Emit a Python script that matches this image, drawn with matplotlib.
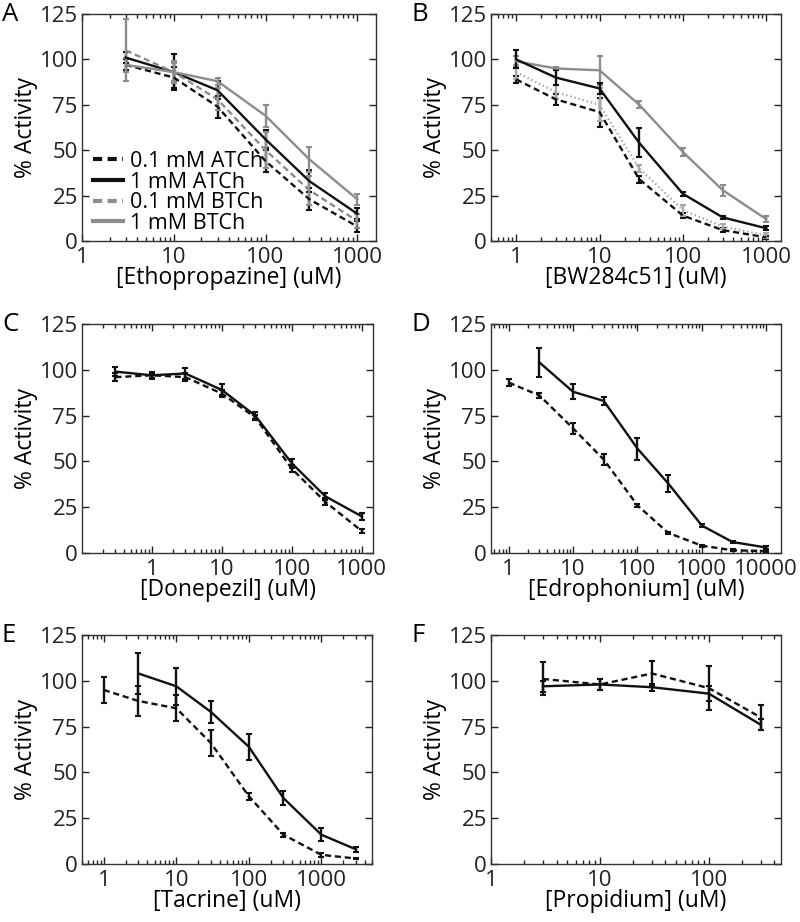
import matplotlib
matplotlib.use("Agg")
import matplotlib.pyplot as plt
from matplotlib.ticker import FixedLocator, LogLocator, NullFormatter, FuncFormatter
from matplotlib.lines import Line2D
import numpy as np

plt.rcParams['font.family'] = ['Open Sans', 'DejaVu Sans']

# ---------------- data ----------------
# Panel A: Ethopropazine
a_x = [3, 10, 30, 100, 300, 1000]
a_atch01 = [97, 90, 74, 44, 23, 8]
a_atch01_err = [3, 6, 6, 6, 6, 3]
a_atch1 = [101, 93, 83, 56, 33, 15]
a_atch1_err = [3, 10, 5, 5, 6, 3]
a_btch01 = [105, 93, 78, 50, 28, 11]
a_btch01_err = [17, 6, 6, 10, 8, 4]
a_btch1 = [97, 93, 88, 69, 45, 23]
a_btch1_err = [4, 5, 2, 6, 7, 3]

# Panel B: BW284c51
b_x = [1, 3, 10, 30, 100, 300, 1000]
b_atch01 = [89, 78, 71, 34, 14, 6, 2]
b_atch01_err = [2, 3, 8, 2, 1.5, 1, 1]
b_atch1 = [100, 90, 84, 54, 26, 13, 7]
b_atch1_err = [5, 4, 3, 8, 1, 1, 1]
b_btch01 = [93, 82, 75, 40, 17, 8, 3]
b_btch01_err = [4, 4, 9, 2, 3, 1.5, 1.5]
b_btch1 = [99, 95, 94, 75, 49, 28, 12]
b_btch1_err = [3, 1, 8, 2, 2, 3, 1.5]

# Panel C: Donepezil
c_x = [0.3, 1, 3, 10, 30, 100, 300, 1000]
c_atch01 = [96, 97, 96, 87, 74, 46, 28, 12]
c_atch01_err = [2, 1.5, 2, 2, 1.5, 2, 2, 1]
c_atch1 = [99, 97, 98, 89, 75, 49, 31, 20]
c_atch1_err = [2.5, 2, 3, 3, 2, 2.5, 2, 2]

# Panel D: Edrophonium
d_x01 = [1, 3, 10, 30, 100, 300, 1000, 3000, 10000]
d_atch01 = [93, 86, 68, 51, 26, 11, 4, 1.5, 1]
d_atch01_err = [2, 1.5, 3, 3, 1, 0.5, 0.5, 0.5, 0.5]
d_x1 = [3, 10, 30, 100, 300, 1000, 3000, 10000]
d_atch1 = [104, 88, 83, 57, 38, 15, 6, 3]
d_atch1_err = [8, 4, 2, 6, 4.5, 1, 0.7, 0.7]

# Panel E: Tacrine
e_x01 = [1, 3, 10, 30, 100, 300, 1000, 3000]
e_atch01 = [95, 89, 85, 66, 37, 16, 5, 3]
e_atch01_err = [7, 8, 7, 7, 2, 1, 1, 0.5]
e_x1 = [3, 10, 30, 100, 300, 1000, 3000]
e_atch1 = [104, 97, 83, 64, 36, 16, 8]
e_atch1_err = [11, 10, 6, 7, 4, 3.5, 1.5]

# Panel F: Propidium
f_x = [3, 10, 30, 100, 300]
f_atch01 = [101, 98, 104, 96, 80]
f_atch01_err = [9, 3, 7, 12, 7]
f_atch1 = [97, 98, 96.5, 93, 76]
f_atch1_err = [3, 3, 2, 4, 3]

legend_labels = ['0.1 mM ATCh', '1 mM ATCh', '0.1 mM BTCh', '1 mM BTCh']
xlabels = ['[Ethopropazine] (uM)', '[BW284c51] (uM)', '[Donepezil] (uM)',
           '[Edrophonium] (uM)', '[Tacrine] (uM)', '[Propidium] (uM)']
letters = ['A', 'B', 'C', 'D', 'E', 'F']

# ---------------- style ----------------
BLACK = '#111111'
GRAY = '#8c8c8c'
DASH = (0, (2.6, 1.6))
DOT = (0, (0.6, 1.2))
FS = 16

fig = plt.figure(figsize=(8, 9.22), dpi=100)

W, H = 800, 922
def add_ax(l, r, t, b):
    return fig.add_axes([l / W, 1 - b / H, (r - l) / W, (b - t) / H])

axA = add_ax(82, 376, 14, 241)
axB = add_ax(491, 781, 14, 241)
axC = add_ax(82, 373, 324, 553)
axD = add_ax(491, 781, 324, 553)
axE = add_ax(82, 372, 635, 864)
axF = add_ax(491, 781, 635, 864)
axes = [axA, axB, axC, axD, axE, axF]

def series(ax, x, y, err, color, ls):
    ax.errorbar(x, y, yerr=err, color=color, ls=ls, lw=1.7, elinewidth=1.7,
                capsize=2.5, capthick=1.5, zorder=3)

series(axA, a_x, a_atch01, a_atch01_err, BLACK, DASH)
series(axA, a_x, a_atch1, a_atch1_err, BLACK, '-')
series(axA, a_x, a_btch01, a_btch01_err, GRAY, DASH)
series(axA, a_x, a_btch1, a_btch1_err, GRAY, '-')

series(axB, b_x, b_atch01, b_atch01_err, BLACK, DASH)
series(axB, b_x, b_btch01, b_btch01_err, '#a8a8a8', DOT)
series(axB, b_x, b_btch1, b_btch1_err, GRAY, '-')
series(axB, b_x, b_atch1, b_atch1_err, BLACK, '-')

series(axC, c_x, c_atch01, c_atch01_err, BLACK, DASH)
series(axC, c_x, c_atch1, c_atch1_err, BLACK, '-')

series(axD, d_x01, d_atch01, d_atch01_err, BLACK, DASH)
series(axD, d_x1, d_atch1, d_atch1_err, BLACK, '-')

series(axE, e_x01, e_atch01, e_atch01_err, BLACK, DASH)
series(axE, e_x1, e_atch1, e_atch1_err, BLACK, '-')

series(axF, f_x, f_atch01, f_atch01_err, BLACK, DASH)
series(axF, f_x, f_atch1, f_atch1_err, BLACK, '-')

xlims = [(1, 1600), (0.5, 1500), (0.1, 1450), (0.53, 17000), (0.5, 5000), (1, 460)]
majors = [[1, 10, 100, 1000], [1, 10, 100, 1000], [1, 10, 100, 1000],
          [1, 10, 100, 1000, 10000], [1, 10, 100, 1000], [1, 10, 100]]

fmt = FuncFormatter(lambda v, p: ('%g' % v))
for ax, xl, mj, lab, let in zip(axes, xlims, majors, xlabels, letters):
    ax.set_xscale('log')
    ax.set_xlim(*xl)
    ax.set_ylim(0, 125)
    ax.xaxis.set_major_locator(FixedLocator(mj))
    ax.xaxis.set_major_formatter(fmt)
    ax.xaxis.set_minor_locator(LogLocator(base=10, subs=np.arange(2, 10), numticks=30))
    ax.xaxis.set_minor_formatter(NullFormatter())
    ax.set_yticks([0, 25, 50, 75, 100, 125])
    ax.tick_params(which='both', direction='in', top=True, right=True,
                   labelsize=FS, width=1.0, colors='#222222')
    ax.tick_params(axis='x', pad=4)
    ax.tick_params(axis='y', pad=3)
    ax.tick_params(which='major', length=5)
    ax.tick_params(which='minor', length=3)
    for s in ax.spines.values():
        s.set_linewidth(1.0)
        s.set_color('#333333')
    ax.set_xlabel(lab, fontsize=FS + 0.5, labelpad=-1)
    ax.set_ylabel('% Activity', fontsize=FS + 0.5, labelpad=1)
    pos = ax.get_position()
    fig.text(pos.x0 - 80 / W, pos.y1 - 7 / H, let, fontsize=FS + 2.5,
             va='baseline', ha='left')

handles = [Line2D([], [], color=BLACK, ls=(0, (2.2, 1.3)), lw=3),
           Line2D([], [], color=BLACK, ls='-', lw=3),
           Line2D([], [], color=GRAY, ls=(0, (2.2, 1.3)), lw=3),
           Line2D([], [], color=GRAY, ls='-', lw=3)]
leg = axA.legend(handles, legend_labels, loc='upper left',
                 bbox_to_anchor=(93 / W, 1 - 151 / H), bbox_transform=fig.transFigure,
                 frameon=False, fontsize=15.5, handlelength=1.4, handletextpad=0.3,
                 labelspacing=-0.02, borderaxespad=0, borderpad=0)

fig.savefig('out.png', dpi=100)
